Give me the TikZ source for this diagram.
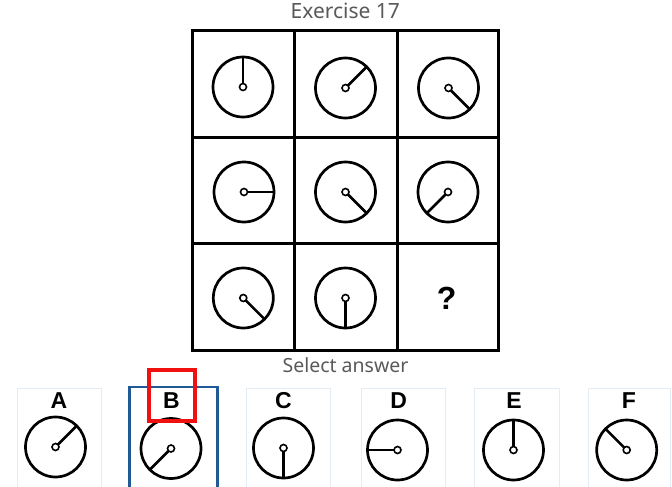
\documentclass[tikz,border=0pt]{standalone}
\usepackage{fontspec}
\setmainfont{Noto Sans}
\newfontfamily\arialb{Liberation Sans}[BoldFont={* Bold}]
\definecolor{txtgray}{HTML}{595959}
\definecolor{boxgray}{HTML}{E4ECF4}
\definecolor{selblue}{HTML}{1F5A96}
\definecolor{selred}{HTML}{F01010}
\begin{document}
\begin{tikzpicture}[x=1pt,y=-1pt,
  grid/.style={line width=3pt},
  dialc/.style={circle,draw,line width=2.7pt,minimum size=60pt,inner sep=0pt,outer sep=0pt},
  hub/.style={circle,draw,line width=1.6pt,fill=white,minimum size=7pt,inner sep=0pt,outer sep=0pt},
  pointer/.style={line width=2.5pt},
  anslbl/.style={font=\arialb\bfseries\fontsize{23}{23}\selectfont,anchor=base,inner sep=0pt},
  ansbox/.style={draw=boxgray,line width=1pt},
  title/.style={font=\fontsize{21}{21}\selectfont,text=txtgray,anchor=base,inner sep=0pt}
]
\clip (0,0) rectangle (672,487);
\fill[white] (0,0) rectangle (672,487);

% title
\node[title] (ttl) at (345.3,18.3) {Exercise 17};
\node[title,font=\fontsize{19.5}{19.5}\selectfont] (sel) at (345.5,372.3) {Select answer};

% grid
\draw[grid] (192,31) rectangle (498,350.5);
\draw[grid] (294,31) -- (294,350.5);
\draw[grid] (397,31) -- (397,350.5);
\draw[grid] (192,137) -- (498,137);
\draw[grid] (192,243) -- (498,243);

% dial macro: name, x, y, angle
\newcommand{\mydial}[4]{%
  \node[dialc] (c#1) at (#2,#3) {};
  \node[hub] (h#1) at (c#1.center) {};
  \draw[pointer] (h#1) -- (c#1.#4);
}

\mydial{11}{243}{87}{90}
\mydial{12}{345.5}{88}{45}
\mydial{13}{448.5}{88}{-45}
\mydial{21}{244}{192}{0}
\mydial{22}{345.5}{192}{-45}
\mydial{23}{448}{192}{-135}
\mydial{31}{243.3}{298}{-45}
\mydial{32}{345.5}{298}{-90}

\node[font=\arialb\bfseries\fontsize{32}{32}\selectfont,anchor=base,inner sep=0pt] (q) at (446.7,309.3) {?};

% answer boxes
\draw[ansbox] (17.5,495) |- (101.5,388.5) -- (101.5,495);
\draw[ansbox] (246,495) |- (330,388.5) -- (330,495);
\draw[ansbox] (361,495) |- (445,388.5) -- (445,495);
\draw[ansbox] (474.5,495) |- (559,388.5) -- (559,495);
\draw[ansbox] (588,495) |- (670,388.5) -- (670,495);
\draw[selblue,line width=2.5pt] (129.7,495) |- (217.3,387) -- (217.3,495);

% answer labels
\node[anslbl] (la) at (59,408.3) {A};
\node[anslbl] (lb) at (171.5,408.3) {B};
\node[anslbl] (lc) at (283.5,408.3) {C};
\node[anslbl] (ld) at (398.7,408.3) {D};
\node[anslbl] (le) at (514,408.3) {E};
\node[anslbl] (lf) at (629,408.3) {F};

% answer dials
\mydial{A}{55.5}{447}{45}
\mydial{B}{171}{448.5}{-135}
\mydial{C}{283.5}{448}{-90}
\mydial{D}{397.5}{450}{180}
\mydial{E}{513.5}{450}{90}
\mydial{F}{626.7}{450}{135}

% red selection box
\draw[selred,line width=4pt] (148.7,370.3) rectangle (195.3,420.5);
\end{tikzpicture}
\end{document}
